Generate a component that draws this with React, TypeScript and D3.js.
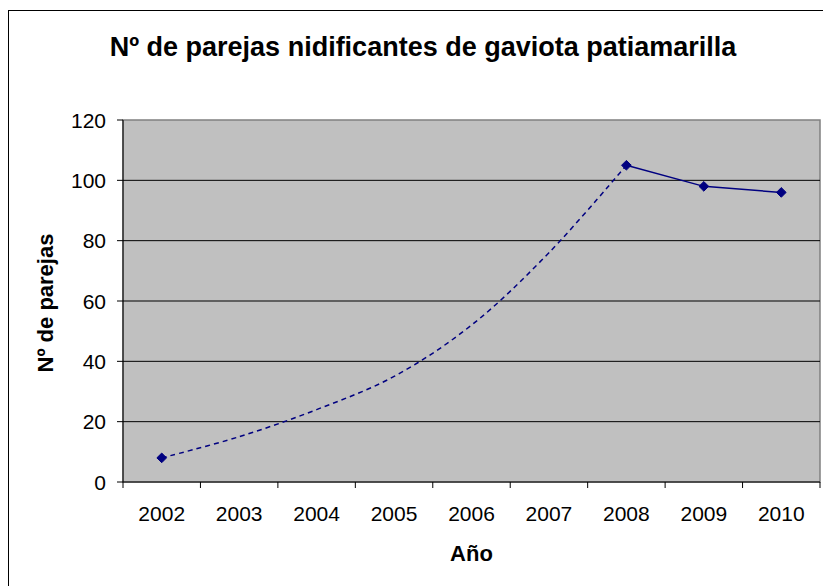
import React from 'react'
import * as d3 from 'd3'

const years = ['2002', '2003', '2004', '2005', '2006', '2007', '2008', '2009', '2010']
// observed counts (markers + solid segment)
const observed: (number | null)[] = [8, null, null, null, null, null, 105, 98, 96]
// estimated trend between surveys (dashed, smoothed)
const estimated: (number | null)[] = [8, 15, 24, 35, 52, 76, 105, null, null]
const yTicks = [0, 20, 40, 60, 80, 100, 120]

const title = 'Nº de parejas nidificantes de gaviota patiamarilla'
const xTitle = 'Año'
const yTitle = 'Nº de parejas'

const W = 823
const H = 586
const margin = { left: 123, right: 3, top: 120, bottom: 104 }

const App = () => {
  const innerWidth = W - margin.left - margin.right
  const innerHeight = H - margin.top - margin.bottom

  const xScale = d3.scaleBand().domain(years).range([0, innerWidth])
  const yScale = d3.scaleLinear().domain([0, 120]).range([innerHeight, 0])
  const cx = (y: string) => (xScale(y) as number) + xScale.bandwidth() / 2

  const dashed = d3.line<[string, number | null]>()
    .defined(d => d[1] != null)
    .x(d => cx(d[0]))
    .y(d => yScale(d[1] as number))
    .curve(d3.curveCatmullRom)

  const solid = d3.line<[string, number]>()
    .x(d => cx(d[0]))
    .y(d => yScale(d[1]))

  const estPts = years.map((y, i) => [y, estimated[i]] as [string, number | null])
  const obsPts = years.map((y, i) => [y, observed[i]] as [string, number | null]).filter(d => d[1] != null) as [string, number][]
  const solidPts = obsPts.filter(d => +d[0] >= 2008)

  const font = 'Arial, "Liberation Sans", sans-serif'
  const navy = '#000080'

  return (
    <svg width={W} height={H} style={{ position: 'absolute', left: 0, top: 0, background: '#fff' }} fontFamily={font}>
      <rect x={8.5} y={10.5} width={W + 20} height={H + 20} fill="#fff" stroke="#000" strokeWidth={1} />
      <text x={423} y={56} textAnchor="middle" fontSize={27} fontWeight="bold">{title}</text>
      <g transform={`translate(${margin.left},${margin.top})`}>
        <rect x={0} y={0} width={innerWidth} height={innerHeight} fill="#c0c0c0" stroke="#808080" strokeWidth={1.5} />
        {yTicks.map((t, i) => (
          <g key={i} transform={`translate(0,${yScale(t)})`}>
            {t > 0 && t < 120 && <line x2={innerWidth} stroke="#000" strokeWidth={1} />}
            <line x1={-6} x2={0} stroke="#000" />
            <text x={-17} dy=".36em" textAnchor="end" fontSize={21}>{t}</text>
          </g>
        ))}
        <line y1={0} y2={innerHeight} stroke="#000" />
        <line x1={0} x2={innerWidth} y1={innerHeight} y2={innerHeight} stroke="#000" />
        {years.map((y, i) => (
          <g key={i}>
            <line x1={xScale(y) as number} x2={xScale(y) as number} y1={innerHeight} y2={innerHeight + 6} stroke="#000" />
            <text x={cx(y)} y={innerHeight + 39} textAnchor="middle" fontSize={21}>{y}</text>
          </g>
        ))}
        <line x1={innerWidth} x2={innerWidth} y1={innerHeight} y2={innerHeight + 6} stroke="#000" />
        <path d={dashed(estPts) || ''} fill="none" stroke={navy} strokeWidth={1.5} strokeDasharray="5,4" />
        <path d={solid(solidPts) || ''} fill="none" stroke={navy} strokeWidth={1.5} />
        {obsPts.map((d, i) => (
          <path key={i} transform={`translate(${cx(d[0])},${yScale(d[1])})`} d={d3.symbol(d3.symbolDiamond2, 60)() || ''} fill={navy} stroke={navy} />
        ))}
      </g>
      <text x={471.5} y={561} textAnchor="middle" fontSize={22} fontWeight="bold">{xTitle}</text>
      <text transform={`translate(53,303) rotate(-90)`} textAnchor="middle" fontSize={22} fontWeight="bold">{yTitle}</text>
    </svg>
  )
}

export default App
